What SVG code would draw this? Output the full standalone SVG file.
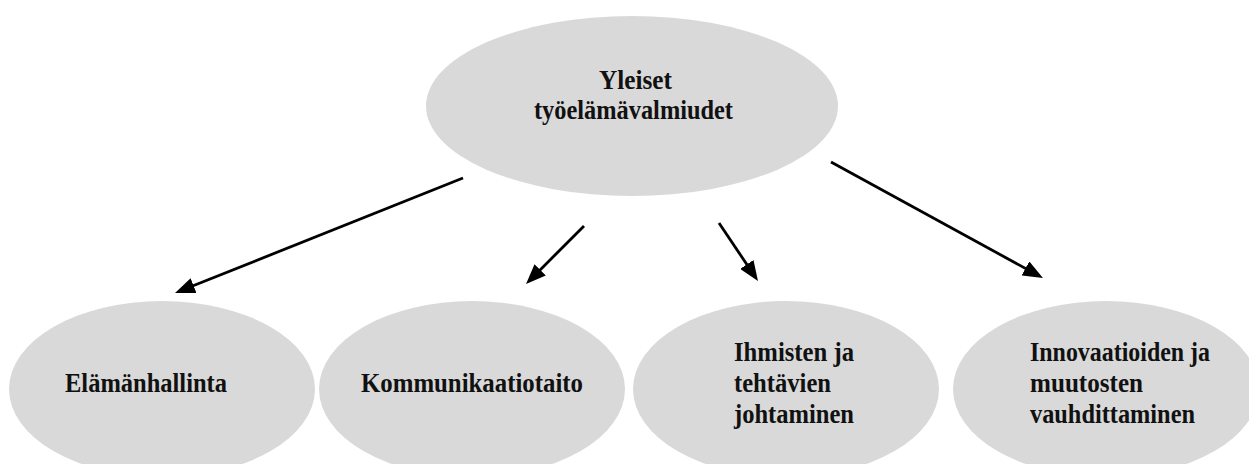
<svg xmlns="http://www.w3.org/2000/svg" width="1249" height="464" viewBox="0 0 1249 464">
  <style>
    .node { fill: #d9d9d9; }
    .label { font-weight: bold; font-size: 27px; fill: #111; }
    .edge { stroke: #000; stroke-width: 2.8; fill: none; marker-end: url(#arrow); }
  </style>
  <defs>
    <!-- filled triangular arrowhead, tip at the path's end point -->
    <marker id="arrow" markerUnits="userSpaceOnUse" markerWidth="20" markerHeight="16" refX="10" refY="8" orient="auto">
      <path d="M0,0 L20,8 L0,16 z" fill="#000"/>
    </marker>
  </defs>
  <rect width="1249" height="464" fill="#fff"/>

  <g font-family="'Liberation Serif', 'DejaVu Serif', serif">
    <g id="root">
      <ellipse class="node" cx="632" cy="106" rx="206" ry="90"/>
      <text class="label" x="599" y="89" textLength="73" lengthAdjust="spacingAndGlyphs">Yleiset</text>
      <text class="label" x="534" y="119" textLength="199" lengthAdjust="spacingAndGlyphs">työelämävalmiudet</text>
    </g>

    <g id="elamanhallinta">
      <ellipse class="node" cx="162" cy="389" rx="153" ry="88"/>
      <text class="label" x="65" y="392" textLength="162" lengthAdjust="spacingAndGlyphs">Elämänhallinta</text>
    </g>

    <g id="kommunikaatiotaito">
      <ellipse class="node" cx="472" cy="389" rx="153" ry="88"/>
      <text class="label" x="361" y="392" textLength="222" lengthAdjust="spacingAndGlyphs">Kommunikaatiotaito</text>
    </g>

    <g id="johtaminen">
      <ellipse class="node" cx="786" cy="389" rx="153" ry="88"/>
      <text class="label" x="734" y="361" textLength="120" lengthAdjust="spacingAndGlyphs">Ihmisten ja</text>
      <text class="label" x="734" y="392" textLength="97" lengthAdjust="spacingAndGlyphs">tehtävien</text>
      <text class="label" x="734" y="423" textLength="120" lengthAdjust="spacingAndGlyphs">johtaminen</text>
    </g>

    <g id="innovaatiot">
      <ellipse class="node" cx="1106" cy="389" rx="153" ry="88"/>
      <text class="label" x="1030" y="361" textLength="180" lengthAdjust="spacingAndGlyphs">Innovaatioiden ja</text>
      <text class="label" x="1030" y="392" textLength="113" lengthAdjust="spacingAndGlyphs">muutosten</text>
      <text class="label" x="1030" y="423" textLength="165" lengthAdjust="spacingAndGlyphs">vauhdittaminen</text>
    </g>
  </g>

  <g id="connectors">
    <line class="edge" x1="463" y1="178" x2="184.3" y2="289.3"/>
    <line class="edge" x1="584" y1="226" x2="533.1" y2="276.9"/>
    <line class="edge" x1="719" y1="223" x2="752.4" y2="272.7"/>
    <line class="edge" x1="831" y1="162" x2="1034.2" y2="273.2"/>
  </g>
</svg>
